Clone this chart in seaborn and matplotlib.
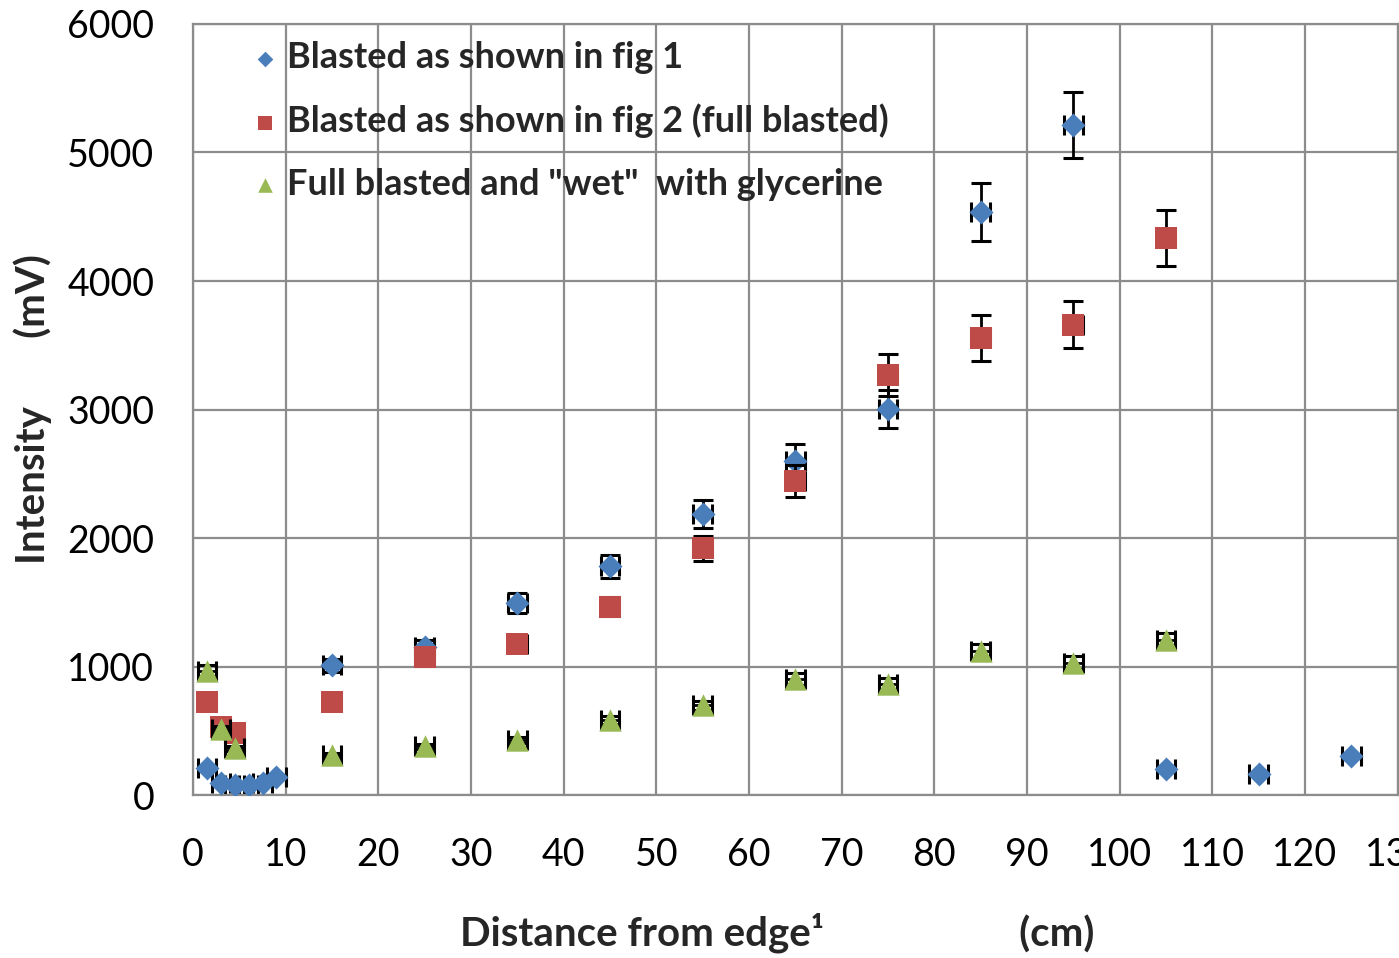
import numpy as np
import pandas as pd
import seaborn as sns
import matplotlib.pyplot as plt

# distance from edge (cm) and intensity (mV) for each blasting condition
dist_fig1 = [1.5, 3, 4.5, 6, 7.5, 9, 15, 25, 35, 45, 55, 65, 75, 85, 95, 105, 115, 125]
int_fig1 = [215, 95, 80, 80, 95, 140, 1010, 1150, 1495, 1780, 2185, 2600, 3005, 4535, 5215, 200, 165, 305]
err_fig1 = [11, 5, 4, 4, 5, 7, 50, 58, 75, 89, 109, 130, 150, 227, 255, 10, 8, 15]

dist_fig2 = [1.5, 3, 4.5, 15, 25, 35, 45, 55, 65, 75, 85, 95, 105]
int_fig2 = [725, 530, 480, 725, 1075, 1175, 1465, 1920, 2445, 3270, 3555, 3660, 4335]
err_fig2 = [36, 27, 24, 36, 54, 59, 73, 96, 122, 164, 178, 183, 217]

dist_wet = [1.5, 3, 4.5, 15, 25, 35, 45, 55, 65, 75, 85, 95, 105]
int_wet = [965, 515, 365, 310, 380, 430, 585, 700, 905, 865, 1120, 1030, 1205]
err_wet = [48, 26, 18, 16, 19, 22, 29, 35, 45, 43, 56, 52, 60]

x_err = 1.0

names = ['Blasted as shown in fig 1',
         'Blasted as shown in fig 2 (full blasted)',
         'Full blasted and "wet"  with glycerine']

df = pd.concat([
    pd.DataFrame({'dist': dist_fig1, 'intensity': int_fig1, 'err': err_fig1, 'series': names[0]}),
    pd.DataFrame({'dist': dist_fig2, 'intensity': int_fig2, 'err': err_fig2, 'series': names[1]}),
    pd.DataFrame({'dist': dist_wet, 'intensity': int_wet, 'err': err_wet, 'series': names[2]}),
], ignore_index=True)

colors = {names[0]: '#4A7EBB', names[1]: '#BE4B48', names[2]: '#98B954'}
markers = {names[0]: 'D', names[1]: 's', names[2]: '^'}
sizes = {names[0]: 150, names[1]: 260, names[2]: 260}

sns.set_style("white")
plt.rcParams['font.family'] = ['Lato', 'DejaVu Sans']

fig = plt.figure(figsize=(13.99, 9.58), dpi=100)
ax = fig.add_axes([0.138, 0.170, 0.861, 0.805])

for i, name in enumerate(names):
    d = df[df['series'] == name]
    ax.errorbar(d['dist'], d['intensity'], yerr=d['err'], xerr=x_err, fmt='none',
                ecolor='black', elinewidth=2.0, capsize=7, capthick=2.2, zorder=2 + 2 * i)
    sns.scatterplot(data=d, x='dist', y='intensity', marker=markers[name], s=sizes[name],
                    color=colors[name], linewidth=0, ax=ax, zorder=3 + 2 * i, label=name)

ax.set_xlim(0, 130)
ax.set_ylim(0, 6000)
ax.set_xticks(np.arange(0, 131, 10))
ax.set_yticks(np.arange(0, 6001, 1000))
ax.grid(True, color='#8c8c8c', linewidth=1.6)
ax.set_axisbelow(True)
for sp in ax.spines.values():
    sp.set_color('#8c8c8c')
    sp.set_linewidth(1.6)
ax.tick_params(axis='both', length=0, labelsize=27, colors='black')
ax.tick_params(axis='x', pad=30)
ax.tick_params(axis='y', pad=28)
for lab in ax.get_xticklabels():
    lab.set_clip_on(False)

ax.set_xlabel('Distance from edge\u00b9                    (cm)', fontsize=29,
              fontweight='bold')
ax.xaxis.set_label_coords(0.485, -0.152)
ax.set_ylabel('Intensity       (mV)', fontsize=29, fontweight='bold')
ax.yaxis.set_label_coords(-0.117, 0.5)

leg = ax.legend(loc='upper left', bbox_to_anchor=(0.018, 1.02), frameon=False,
                markerscale=0.65, handletextpad=0.1, labelspacing=0.82,
                handlelength=1.0, prop={'weight': 'bold', 'size': 26})

fig.savefig('out.png', dpi=100)
